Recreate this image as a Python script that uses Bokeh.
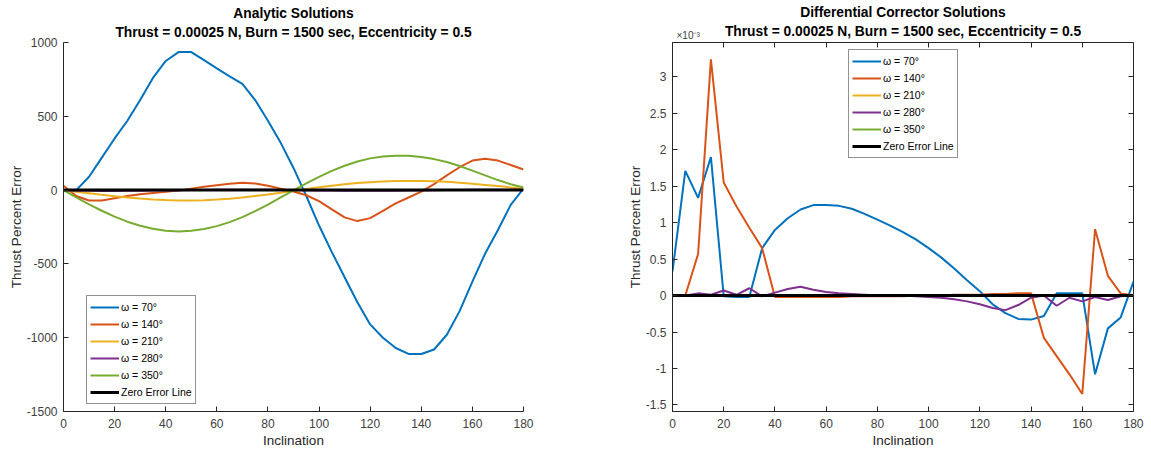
from bokeh.plotting import figure
from bokeh.models import (Range1d, FixedTicker, LinearAxis, Title,
                          CustomJSTickFormatter)
from bokeh.layouts import row
from bokeh.embed import file_html
from bokeh.resources import INLINE

# ---------------- data ----------------
inclination = [0, 5, 10, 15, 20, 25, 30, 35, 40, 45, 50, 55, 60, 65, 70, 75, 80, 85, 90,
               95, 100, 105, 110, 115, 120, 125, 130, 135, 140, 145, 150, 155, 160, 165,
               170, 175, 180]

series_labels = ["ω = 70°", "ω = 140°", "ω = 210°", "ω = 280°", "ω = 350°"]
zero_label = "Zero Error Line"

# Analytic solutions (percent error)
an_w70 = [0, 0, 90, 220, 350, 470, 610, 760, 875, 935, 935, 880, 825, 770, 720, 610, 470,
          320, 150, -40, -240, -420, -590, -760, -910, -1000, -1070, -1110, -1110, -1080,
          -980, -820, -620, -430, -270, -100, 10]
an_w140 = [30, -40, -70, -70, -55, -40, -28, -20, -12, -3, 10, 22, 33, 43, 50, 45, 30, 10,
           -10, -35, -75, -130, -185, -210, -190, -140, -90, -50, -10, 40, 100, 155, 200,
           212, 200, 170, 140]
an_w210 = [0, -12, -22, -32, -42, -50, -57, -63, -67, -70, -70, -68, -64, -58, -50, -40,
           -30, -18, -5, 8, 20, 30, 40, 48, 54, 58, 61, 62, 62, 60, 56, 50, 43, 35, 27, 18, 10]
an_w280 = [0, -3, -5, -6, -6, -5, -4, -3, -2, -1, 0, 1, 2, 3, 3, 3, 2, 1, 0, -1, -2, -3,
           -4, -5, -5, -5, -4, -3, -2, -1, 0, 1, 2, 3, 3, 2, 0]
an_w350 = [0, -50, -97, -140, -180, -214, -242, -262, -275, -280, -276, -264, -244, -217,
           -183, -143, -98, -50, -2, 45, 90, 130, 165, 194, 215, 228, 233, 232, 225, 210,
           190, 163, 132, 100, 68, 40, 18]

# Differential corrector solutions (x 1e-3 percent error)
dc_w70 = [0.33, 1.71, 1.34, 1.90, -0.01, -0.02, -0.02, 0.65, 0.90, 1.06, 1.18, 1.24, 1.24,
          1.23, 1.19, 1.12, 1.04, 0.96, 0.87, 0.77, 0.65, 0.52, 0.37, 0.21, 0.06, -0.12,
          -0.24, -0.32, -0.33, -0.28, 0.03, 0.03, 0.03, -1.08, -0.45, -0.30, 0.19]
dc_w140 = [0, 0, 0.57, 3.24, 1.55, 1.22, 0.93, 0.65, -0.02, -0.02, -0.02, -0.02, -0.02,
           -0.02, -0.01, -0.01, -0.01, -0.01, -0.01, 0, 0, 0, 0.01, 0.01, 0.01, 0.02, 0.02,
           0.03, 0.03, -0.58, -0.83, -1.08, -1.35, 0.91, 0.27, 0.03, 0]
dc_w210 = [0, 0, 0, 0, 0, 0, 0, 0, 0, 0, 0, 0, 0, 0, 0, 0, 0, 0, 0, 0, 0, 0, 0, 0, 0, 0,
           0, 0, 0, 0, 0, 0, 0, 0, 0, 0, 0]
dc_w280 = [0, 0, 0.03, 0.01, 0.07, 0.01, 0.10, -0.01, 0.04, 0.09, 0.12, 0.08, 0.05, 0.03,
           0.02, 0.01, 0, 0, 0, -0.01, -0.02, -0.03, -0.05, -0.08, -0.12, -0.17, -0.20,
           -0.13, -0.03, 0, -0.14, -0.03, -0.08, -0.02, -0.06, -0.01, 0]
dc_w350 = [0, 0, 0, 0, 0, 0, 0, 0, 0, 0, 0, 0, 0, 0, 0, 0, 0, 0, 0, 0, 0, 0, 0, 0, 0, 0,
           0, 0, 0, 0, 0, 0, 0, 0, 0, 0, 0]

zero_x = [0, 180]
zero_y = [0, 0]

x_ticks = [0, 20, 40, 60, 80, 100, 120, 140, 160, 180]
an_y_ticks = [-1500, -1000, -500, 0, 500, 1000]
dc_y_ticks = [-1.5, -1, -0.5, 0, 0.5, 1, 1.5, 2, 2.5, 3]

subtitle = "Thrust = 0.00025 N, Burn = 1500 sec, Eccentricity = 0.5"
exp_label = "×10⁻³"

# ---------------- style ----------------
FONT = "Liberation Sans"
AXC = "#262626"
TICKC = "#404040"
colors = ["#0072BD", "#D95319", "#EDB120", "#7E2F8E", "#77AC30"]
fmt = CustomJSTickFormatter(code="return String(tick);")
blank_fmt = CustomJSTickFormatter(code="return '';")


def style_axis(ax, ticks):
    ax.ticker = FixedTicker(ticks=ticks)
    ax.formatter = fmt
    ax.axis_line_color = AXC
    ax.major_tick_line_color = AXC
    ax.major_tick_in = 5
    ax.major_tick_out = 0
    ax.minor_tick_line_color = None
    ax.major_label_text_font = FONT
    ax.major_label_text_font_size = "12px"
    ax.major_label_text_color = TICKC
    ax.axis_label_text_font = FONT
    ax.axis_label_text_font_size = "13.5px"
    ax.axis_label_text_font_style = "normal"
    ax.axis_label_text_color = AXC


def mk_title(text, size, standoff, align="center", bold=True, color="#000000", offset=0):
    return Title(text=text, align=align, text_font=FONT, text_font_size=size,
                 text_font_style="bold" if bold else "normal", text_color=color,
                 standoff=standoff, offset=offset)


def style_legend(p, loc):
    lg = p.legend[0]
    lg.location = loc
    lg.label_text_font = FONT
    lg.label_text_font_size = "10.5px"
    lg.label_text_color = "#000000"
    lg.glyph_width = 29
    lg.glyph_height = 16
    lg.label_height = 16
    lg.label_standoff = 2
    lg.spacing = 1
    lg.padding = 3
    lg.margin = 0
    lg.border_line_color = AXC
    lg.border_line_width = 1
    lg.background_fill_color = "white"
    lg.background_fill_alpha = 1


# ---------------- left: analytic ----------------
p1 = figure(width=590, height=452, output_backend="svg", toolbar_location=None,
            x_range=Range1d(0, 180), y_range=Range1d(-1500, 1000), title=None,
            min_border_left=63, min_border_right=67, min_border_top=42,
            min_border_bottom=41)
p1.outline_line_color = None
p1.xgrid.visible = False
p1.ygrid.visible = False
style_axis(p1.xaxis[0], x_ticks)
style_axis(p1.yaxis[0], an_y_ticks)
p1.xaxis.major_label_standoff = 7
p1.xaxis.axis_label_standoff = 2
p1.yaxis.major_label_standoff = 6
p1.yaxis.axis_label_standoff = 0
p1.xaxis.axis_label = "Inclination"
p1.yaxis.axis_label = "Thrust Percent Error"
p1.add_layout(mk_title(subtitle, "13.8px", 5), "above")
p1.add_layout(mk_title("Analytic Solutions", "13.8px", 0), "above")

for ys, c, lab in zip([an_w70, an_w140, an_w210, an_w280, an_w350], colors, series_labels):
    p1.line(inclination, ys, line_color=c, line_width=2, legend_label=lab)
p1.line(zero_x, zero_y, line_color="#000000", line_width=3, legend_label=zero_label)
style_legend(p1, (23, 7))

# ---------------- right: differential corrector ----------------
p2 = figure(width=558, height=452, output_backend="svg", toolbar_location=None,
            x_range=Range1d(0, 180), y_range=Range1d(-1.59, 3.47), title=None,
            min_border_left=82, min_border_right=15, min_border_top=42,
            min_border_bottom=41)
p2.outline_line_color = AXC
p2.outline_line_alpha = 1
p2.xgrid.visible = False
p2.ygrid.visible = False
style_axis(p2.xaxis[0], x_ticks)
style_axis(p2.yaxis[0], dc_y_ticks)
p2.xaxis.major_label_standoff = 7
p2.xaxis.axis_label_standoff = 2
p2.yaxis.major_label_standoff = 6
p2.yaxis.axis_label_standoff = 0
p2.xaxis.axis_label = "Inclination"
p2.yaxis.axis_label = "Thrust Percent Error"

top_ax = LinearAxis()
style_axis(top_ax, x_ticks)
right_ax = LinearAxis()
style_axis(right_ax, dc_y_ticks)
for ax in (top_ax, right_ax):
    ax.formatter = blank_fmt
    ax.major_label_text_font_size = "0px"
    ax.major_label_standoff = 0
    ax.axis_line_color = None
p2.add_layout(top_ax, "above")
p2.add_layout(right_ax, "right")
p2.add_layout(mk_title(exp_label, "10px", 4, align="left", bold=False, color=TICKC,
                       offset=4), "above")
two_line = mk_title("Differential Corrector Solutions\n" + subtitle, "13.8px", -27)
for attr, val in (("text_line_height", 1.3), ("text_align", "center")):
    try:
        setattr(two_line, attr, val)
    except Exception:
        pass
p2.add_layout(two_line, "above")

for ys, c, lab in zip([dc_w70, dc_w140, dc_w210, dc_w280, dc_w350], colors, series_labels):
    p2.line(inclination, ys, line_color=c, line_width=2, legend_label=lab)
p2.line(zero_x, zero_y, line_color="#000000", line_width=3, legend_label=zero_label)
style_legend(p2, (176, 253))

layout = row(p1, p2)
open("out.html", "w").write(file_html(layout, INLINE))
